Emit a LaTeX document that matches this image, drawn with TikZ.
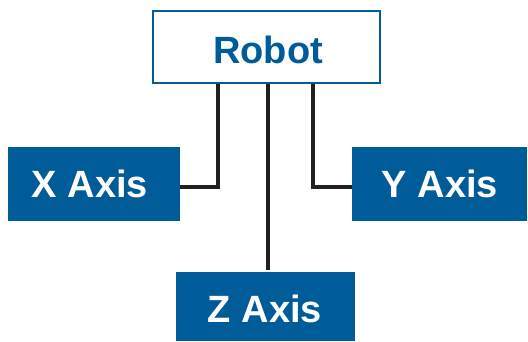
\documentclass[tikz,border=0pt]{standalone}
\usepackage{fontspec}
\setmainfont{Liberation Sans}
\definecolor{boxblue}{RGB}{0,92,153}
\definecolor{linedark}{RGB}{35,31,32}
\tikzset{
  lbl/.style={font=\fontsize{38}{40}\selectfont\bfseries, inner sep=0pt, text height=27.2pt, text depth=0pt},
  bluebox/.style={fill=boxblue, draw=none},
  conn/.style={draw=linedark, line width=4.6pt, line cap=butt, line join=miter}
}
\begin{document}
\begin{tikzpicture}[x=1pt,y=-1pt]
\useasboundingbox (0,0) rectangle (528,341);
% Robot box
\draw[draw=boxblue, line width=2pt, fill=white] (153,11) rectangle (380,83);
\node[lbl, text=boxblue] (robot) at (268,50) {Robot};
\coordinate (rl) at (218,84);
\coordinate (rc) at (268,84);
\coordinate (rr) at (313,84);
% axis boxes
\fill[bluebox] (8,147) rectangle (180,221);
\node[lbl, text=white] (xaxis) at (90,184) {X Axis};
\coordinate (xr) at (180,187);
\fill[bluebox] (352,147) rectangle (527,221);
\node[lbl, text=white] (yaxis) at (440,184) {Y Axis};
\coordinate (yl) at (352,187);
\fill[bluebox] (176,272) rectangle (355,341);
\node[lbl, text=white] (zaxis) at (265,308.5) {Z Axis};
\coordinate (zt) at (268,270);
% connectors
\draw[conn] (rl) |- (xr);
\draw[conn] (rr) |- (yl);
\draw[conn] (rc) -- (zt);
\end{tikzpicture}
\end{document}
